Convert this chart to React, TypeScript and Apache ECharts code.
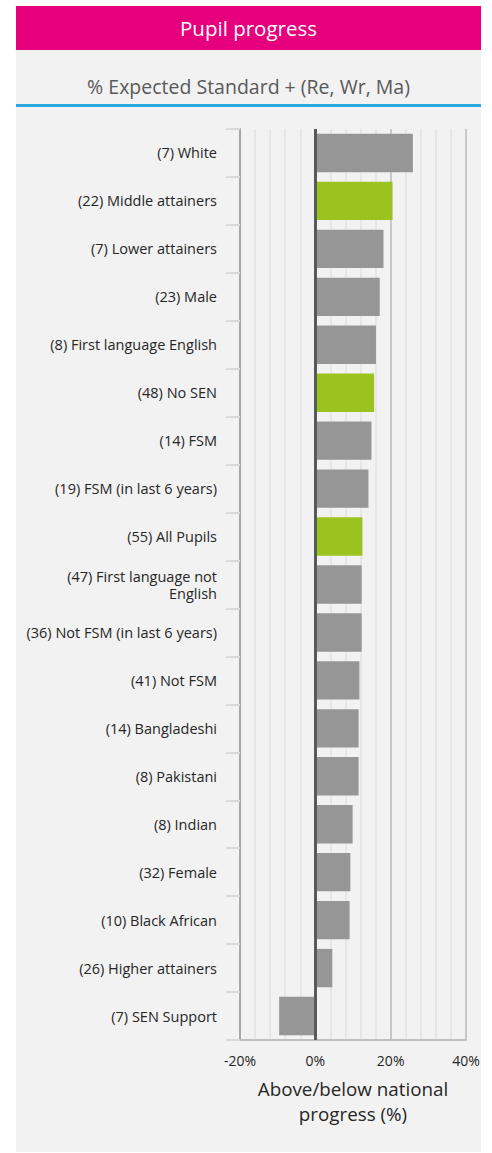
import React, { useEffect, useRef } from "react";
import * as echarts from "echarts";

const categories = [
  "(7) White",
  "(22) Middle attainers",
  "(7) Lower attainers",
  "(23) Male",
  "(8) First language English",
  "(48) No SEN",
  "(14) FSM",
  "(19) FSM (in last 6 years)",
  "(55) All Pupils",
  "(47) First language not\nEnglish",
  "(36) Not FSM (in last 6 years)",
  "(41) Not FSM",
  "(14) Bangladeshi",
  "(8) Pakistani",
  "(8) Indian",
  "(32) Female",
  "(10) Black African",
  "(26) Higher attainers",
  "(7) SEN Support",
];

const values = [25.9, 20.5, 18.1, 17.1, 16.1, 15.6, 14.9, 14.1, 12.5, 12.3, 12.3, 11.7, 11.5, 11.5, 9.9, 9.3, 9.1, 4.5, -9.6];

const highlighted = ["(22) Middle attainers", "(48) No SEN", "(55) All Pupils"];

const xTicks = { min: -20, max: 40, interval: 20 };

const title = "Pupil progress";
const subtitle = "% Expected Standard + (Re, Wr, Ma)";
const xAxisName = "Above/below national\nprogress (%)";

const FONT = "'Open Sans', 'Noto Sans', sans-serif";

export default function App() {
  const ref = useRef<HTMLDivElement>(null);
  useEffect(() => {
    if (!ref.current) return;
    const chart = echarts.init(ref.current, null, { renderer: "svg" });
    chart.setOption({
      animation: false,
      backgroundColor: "#ffffff",
      textStyle: { fontFamily: FONT },
      graphic: [
        { type: "rect", z: -100, shape: { x: 16, y: 50, width: 465, height: 1102 }, style: { fill: "#f2f2f2" } },
        { type: "rect", z: -100, shape: { x: 16, y: 6, width: 465, height: 44 }, style: { fill: "#e6007e" } },
        { type: "rect", z: -90, shape: { x: 16, y: 104, width: 465, height: 3 }, style: { fill: "#29a9e1" } },
        {
          type: "text", z: 10, x: 248.5, y: 28,
          style: { text: title, fill: "#ffffff", fontSize: 20.5, fontFamily: FONT, align: "center", verticalAlign: "middle" },
        },
        {
          type: "text", z: 10, x: 248.5, y: 86,
          style: { text: subtitle, fill: "#595959", fontSize: 19.5, fontFamily: FONT, align: "center", verticalAlign: "middle" },
        },
      ],
      grid: { left: 240, right: 26, top: 129, bottom: 113, containLabel: false },
      xAxis: {
        type: "value",
        min: xTicks.min,
        max: xTicks.max,
        interval: xTicks.interval,
        axisLabel: {
          formatter: (v: number) => `${v}%`,
          fontSize: 14,
          color: "#262626",
          margin: 13,
          fontFamily: FONT,
        },
        axisLine: { show: true, lineStyle: { color: "#bfbfbf", width: 2 } },
        axisTick: { show: false },
        splitLine: { show: true, lineStyle: { color: "#c8c8c8", width: 2 } },
        minorTick: { show: false, splitNumber: 5 },
        minorSplitLine: { show: true, lineStyle: { color: "#e6e6e6", width: 2 } },
        name: xAxisName,
        nameLocation: "middle",
        nameGap: 36,
        nameTextStyle: { fontSize: 18.8, color: "#262626", lineHeight: 25, fontFamily: FONT },
      },
      yAxis: {
        type: "category",
        data: categories,
        inverse: true,
        axisLine: { show: true, onZero: false, lineStyle: { color: "#a6a6a6", width: 2 } },
        axisTick: { show: true, length: 14, lineStyle: { color: "#d9d9d9", width: 2 } },
        axisLabel: { fontSize: 14.5, color: "#262626", margin: 23, fontFamily: FONT, lineHeight: 17, padding: [6, 0, 0, 0] },
      },
      series: [
        {
          type: "bar",
          data: values.map((v, i) => ({
            value: v,
            itemStyle: { color: highlighted.includes(categories[i]) ? "#9ac31f" : "#969696" },
          })),
          barCategoryGap: "20%",
          markLine: {
            silent: true,
            symbol: "none",
            label: { show: false },
            lineStyle: { color: "#595959", width: 3, type: "solid" },
            data: [{ xAxis: 0 }],
          },
        },
      ],
    });
    return () => chart.dispose();
  }, []);
  return <div ref={ref} style={{ position: "absolute", left: 0, top: 0, width: 492, height: 1153 }} />;
}
